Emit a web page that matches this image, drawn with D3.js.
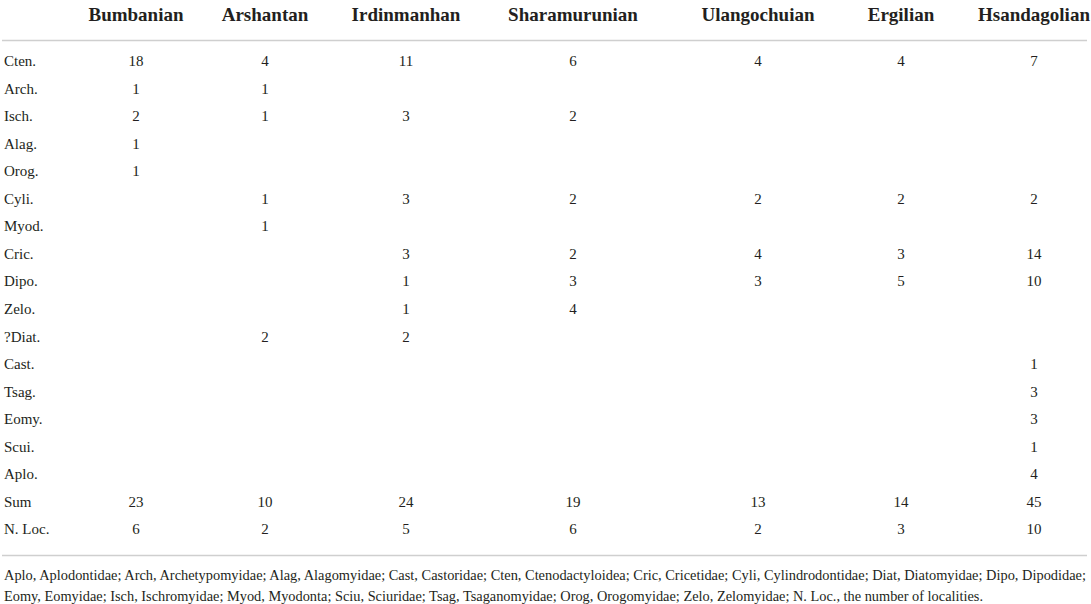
<!DOCTYPE html>
<html>
<head>
<meta charset="utf-8">
<script src="https://cdn.jsdelivr.net/npm/d3@7"></script>
<style>
  body { margin: 0; background: #fff; }
  text { font-family: "Liberation Serif", "Times New Roman", serif; fill: #231f20; }
</style>
</head>
<body>
<div id="table_chart"></div>
<script>
const periods = ["Bumbanian", "Arshantan", "Irdinmanhan", "Sharamurunian", "Ulangochuian", "Ergilian", "Hsandagolian"];
const taxa = ["Cten.", "Arch.", "Isch.", "Alag.", "Orog.", "Cyli.", "Myod.", "Cric.", "Dipo.", "Zelo.", "?Diat.", "Cast.", "Tsag.", "Eomy.", "Scui.", "Aplo.", "Sum", "N. Loc."];

// counts per taxon, one entry per period (null = empty cell)
const counts = [
  [18, 4, 11, 6, 4, 4, 7],
  [1, 1, null, null, null, null, null],
  [2, 1, 3, 2, null, null, null],
  [1, null, null, null, null, null, null],
  [1, null, null, null, null, null, null],
  [null, 1, 3, 2, 2, 2, 2],
  [null, 1, null, null, null, null, null],
  [null, null, 3, 2, 4, 3, 14],
  [null, null, 1, 3, 3, 5, 10],
  [null, null, 1, 4, null, null, null],
  [null, 2, 2, null, null, null, null],
  [null, null, null, null, null, null, 1],
  [null, null, null, null, null, null, 3],
  [null, null, null, null, null, null, 3],
  [null, null, null, null, null, null, 1],
  [null, null, null, null, null, null, 4],
  [23, 10, 24, 19, 13, 14, 45],
  [6, 2, 5, 6, 2, 3, 10]
];

const footnote = [
  "Aplo, Aplodontidae; Arch, Archetypomyidae; Alag, Alagomyidae; Cast, Castoridae; Cten, Ctenodactyloidea; Cric, Cricetidae; Cyli, Cylindrodontidae; Diat, Diatomyidae; Dipo, Dipodidae;",
  "Eomy, Eomyidae; Isch, Ischromyidae; Myod, Myodonta; Sciu, Sciuridae; Tsag, Tsaganomyidae; Orog, Orogomyidae; Zelo, Zelomyidae; N. Loc., the number of localities."
];

const width = 1091, height = 604;

const svg = d3.select("#table_chart")
    .append("svg")
    .attr("width", width)
    .attr("height", height);

// column centres (table layout)
const x = d3.scaleOrdinal()
    .domain(periods)
    .range([136, 265, 406, 573, 758, 901, 1034]);

const y = d3.scalePoint()
    .domain(taxa)
    .range([61, 529]);

// rules
const rule = (yy) => svg.append("line")
    .attr("x1", 2).attr("x2", 1087)
    .attr("y1", yy).attr("y2", yy)
    .attr("stroke", "#cfcfcf")
    .attr("stroke-width", 1.6);
rule(40.5);
rule(555.5);

// header
svg.append("g")
    .selectAll("text")
    .data(periods)
    .join("text")
    .attr("x", d => x(d))
    .attr("y", 14)
    .attr("dy", "0.35em")
    .attr("text-anchor", "middle")
    .style("font-size", "19px")
    .style("font-weight", "bold")
    .text(d => d);

// row labels
svg.append("g")
    .selectAll("text")
    .data(taxa)
    .join("text")
    .attr("x", 4)
    .attr("y", d => y(d))
    .attr("dy", "0.35em")
    .style("font-size", "15px")
    .text(d => d);

// cells
const cells = [];
counts.forEach((row, i) => row.forEach((v, j) => {
    if (v !== null) cells.push({ taxon: taxa[i], period: periods[j], value: v });
}));

svg.append("g")
    .selectAll("text")
    .data(cells)
    .join("text")
    .attr("x", d => x(d.period))
    .attr("y", d => y(d.taxon))
    .attr("dy", "0.35em")
    .attr("text-anchor", "middle")
    .style("font-size", "15px")
    .text(d => d.value);

// footnote
svg.append("g")
    .selectAll("text")
    .data(footnote)
    .join("text")
    .attr("x", 4)
    .attr("y", (d, i) => 580 + i * 20.5)
    .style("font-size", "14px")
    .attr("textLength", (d, i) => i === 0 ? 1082 : 979)
    .attr("lengthAdjust", "spacingAndGlyphs")
    .text(d => d);
</script>
</body>
</html>
